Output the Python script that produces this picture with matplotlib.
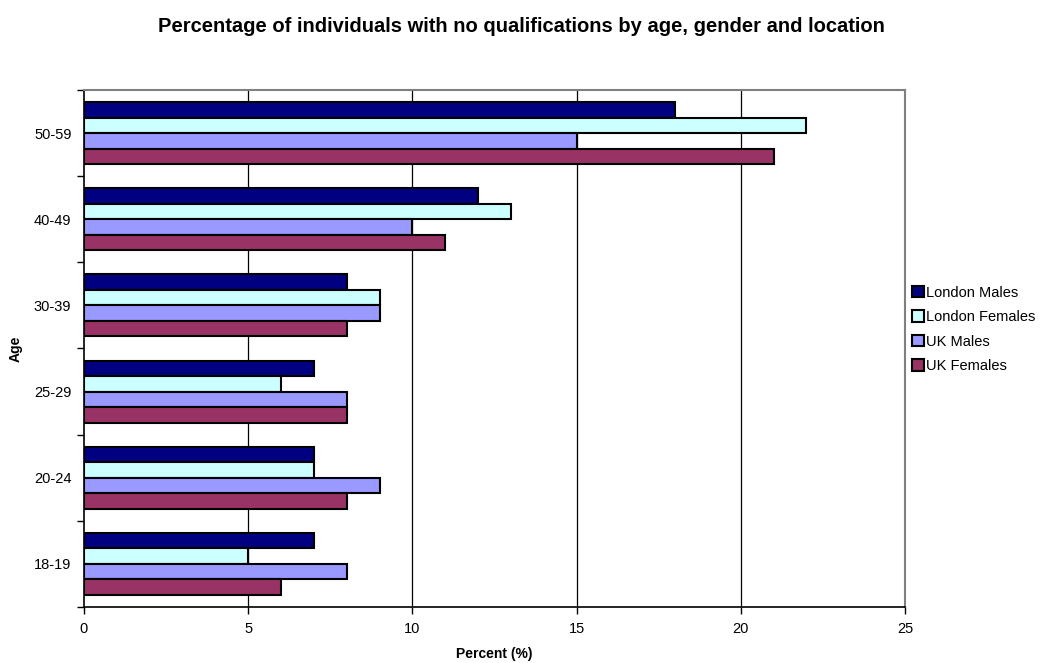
import numpy as np
import matplotlib
matplotlib.use("Agg")
import matplotlib.pyplot as plt

plt.rcParams['font.family'] = ['Liberation Sans', 'DejaVu Sans']

ages = ['18-19', '20-24', '25-29', '30-39', '40-49', '50-59']
series_names = ['London Males', 'London Females', 'UK Males', 'UK Females']
london_males = [7, 7, 7, 8, 12, 18]
london_females = [5, 7, 6, 9, 13, 22]
uk_males = [8, 9, 8, 9, 10, 15]
uk_females = [6, 8, 8, 8, 11, 21]
colors = ['#000080', '#CCFFFF', '#9999FF', '#993366']

fig = plt.figure(figsize=(10.43, 6.63), dpi=100)
ax = fig.add_axes([0.0805, 0.0845, 0.7872, 0.7798])

y = np.arange(len(ages))
h = 0.18
data = [london_males, london_females, uk_males, uk_females]
for i, (vals, name, c) in enumerate(zip(data, series_names, colors)):
    offs = (1.5 - i) * h
    ax.barh(y + offs, vals, height=h, color=c, edgecolor='black',
            linewidth=1.5, label=name, zorder=3)

ax.set_xlim(0, 25)
ax.set_ylim(-0.5, len(ages) - 0.5)
ax.set_xticks(range(0, 26, 5))
ax.set_yticks(y)
ax.set_yticklabels(ages)
ax.set_yticks(np.arange(-0.5, len(ages), 1), minor=True)
ax.tick_params(axis='y', which='major', length=0, labelsize=10.5, pad=9)
ax.tick_params(axis='y', which='minor', length=5, width=1, direction='out')
ax.tick_params(axis='x', length=5, width=1, direction='out', labelsize=10.5, pad=6)

for v in range(5, 25, 5):
    ax.axvline(v, color='black', linewidth=0.9, zorder=1)

for s in ['top', 'right']:
    ax.spines[s].set_color('#808080')
    ax.spines[s].set_linewidth(1.5)
for s in ['left', 'bottom']:
    ax.spines[s].set_color('black')
    ax.spines[s].set_linewidth(1.2)

ax.set_xlabel('Percent (%)', fontsize=10, fontweight='bold', labelpad=8)
ax.set_ylabel('Age', fontsize=10, fontweight='bold', labelpad=8)
fig.suptitle('Percentage of individuals with no qualifications by age, gender and location',
             fontsize=14.5, fontweight='bold', x=0.5, y=0.974)

handles, labels = ax.get_legend_handles_labels()
leg = fig.legend(handles, labels, loc='upper left', bbox_to_anchor=(0.869, 0.578),
                 frameon=False, fontsize=10.5, handlelength=0.8, handleheight=0.8,
                 handletextpad=0.15, labelspacing=0.72, borderaxespad=0)

fig.savefig('out.png', dpi=100)
